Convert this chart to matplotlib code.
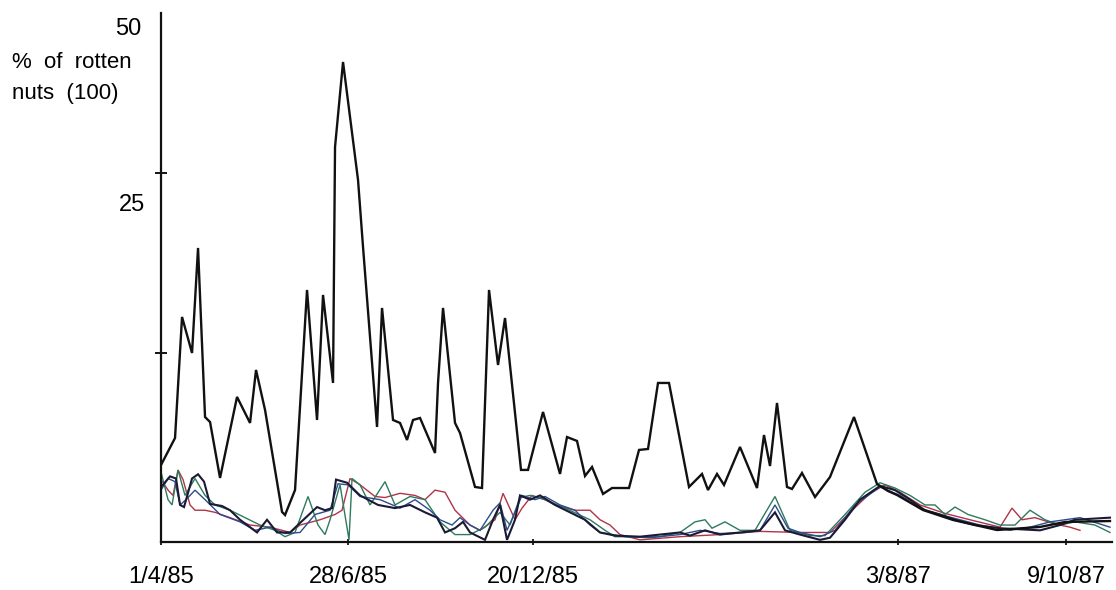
import matplotlib
matplotlib.use("Agg")
import matplotlib.pyplot as plt

plt.rcParams['font.family'] = ['Liberation Sans', 'DejaVu Sans']

# x = sample number along the record, y = % of rotten nuts
black_top = [(0, 7.28), (2.8, 9.83), (4.2, 21.27), (6.2, 17.86), (7.4, 27.79), (8.8, 11.81),
             (9.8, 11.34), (11.8, 6.05), (15.2, 13.71), (17.8, 11.25), (19.0, 16.26), (20.8, 12.48),
             (24.2, 2.84), (24.8, 2.55), (26.8, 4.91), (29.2, 23.82), (31.2, 11.53), (32.4, 23.35),
             (34.4, 15.03), (34.8, 37.33), (36.4, 45.37), (39.4, 34.22), (40.4, 27.88), (43.2, 10.87),
             (44.2, 22.12), (46.4, 11.53), (47.8, 11.25), (49.2, 9.64), (50.4, 11.53), (51.8, 11.72),
             (54.8, 8.41), (55.4, 15.03), (56.4, 22.12), (58.8, 11.25), (59.8, 10.30), (62.8, 5.20),
             (64.2, 5.10), (65.6, 23.82), (67.4, 16.73), (68.8, 21.17), (72.0, 6.81), (73.4, 6.81),
             (76.4, 12.29), (79.8, 6.43), (81.2, 9.92), (83.2, 9.55), (84.8, 6.24), (86.2, 7.09),
             (88.4, 4.54), (90.2, 5.10), (93.6, 5.10), (95.6, 8.70), (97.4, 8.79), (99.4, 15.03),
             (101.6, 15.03), (105.6, 5.20), (108.2, 6.43), (109.4, 4.91), (111.2, 6.43), (112.6, 5.39),
             (115.8, 8.98), (119.2, 5.10), (120.6, 10.11), (121.8, 7.18), (123.2, 13.14), (125.2, 5.20),
             (126.2, 5.01), (128.2, 6.52), (130.8, 4.25), (133.8, 6.14), (138.6, 11.81), (143.2, 5.48),
             (145.4, 4.82), (147.2, 4.44), (152.4, 3.02), (158.4, 2.08), (167.2, 1.13), (175.8, 1.42),
             (180.8, 1.89), (189.8, 1.98)]

navy = [(0, 5.2), (1.8, 6.2), (3.0, 6.0), (3.8, 3.5), (4.6, 3.3), (6.2, 6.0), (7.4, 6.4), (8.6, 5.7),
        (9.8, 3.6), (12.2, 3.4), (13.8, 3.0), (15.8, 2.1), (17.8, 1.4), (19.2, 0.9), (21.2, 2.1),
        (23.2, 0.9), (25.8, 0.9), (27.8, 1.8), (31.2, 3.3), (32.8, 3.0), (34.2, 3.2), (35.0, 5.9),
        (37.2, 5.6), (39.8, 4.4), (43.4, 3.5), (46.8, 3.2), (49.8, 3.5), (52.8, 2.8), (55.2, 2.3),
        (56.8, 0.9), (58.8, 1.3), (60.4, 1.9), (61.8, 0.9), (64.8, 0.2), (66.4, 2.1), (67.8, 3.5),
        (69.2, 0.2), (70.8, 2.1), (71.8, 4.4), (73.8, 4.0), (75.8, 4.4), (78.8, 3.5), (81.8, 2.8),
        (84.8, 2.1), (87.8, 0.9), (90.8, 0.6), (95.8, 0.5), (99.8, 0.7), (103.8, 0.9), (105.8, 0.6),
        (108.8, 1.1), (111.8, 0.7), (115.8, 0.9), (119.8, 1.1), (122.8, 2.8), (124.8, 1.1),
        (127.8, 0.7), (131.8, 0.2), (133.8, 0.4), (136.8, 2.1), (139.8, 4.0), (143.8, 5.3),
        (146.8, 4.9), (149.8, 4.0), (152.8, 3.0), (155.8, 2.6), (158.8, 2.1), (162.8, 1.6),
        (167.8, 1.3), (175.8, 1.1), (179.8, 1.6), (182.8, 2.1), (189.8, 2.3)]

blue = [(0, 4.9), (1.4, 6.0), (2.8, 5.7), (3.8, 3.5), (5.0, 4.0), (6.8, 4.9), (8.8, 4.0), (11.8, 2.6),
        (15.8, 1.9), (18.8, 1.1), (21.8, 1.4), (24.8, 0.8), (27.8, 0.9), (30.8, 2.6), (33.8, 3.0),
        (35.4, 5.5), (37.4, 5.4), (39.8, 4.3), (43.8, 4.0), (47.8, 3.2), (50.8, 4.0), (53.8, 3.0),
        (55.8, 2.1), (58.2, 1.6), (59.8, 2.3), (61.8, 1.6), (63.8, 1.1), (66.4, 3.0), (67.8, 3.7),
        (69.2, 1.1), (70.8, 2.8), (72.2, 4.4), (74.8, 4.0), (76.8, 4.3), (79.8, 3.5), (82.8, 3.0),
        (85.8, 1.6), (87.8, 0.9), (92.8, 0.5), (97.8, 0.4), (103.8, 0.7), (107.8, 1.1), (111.8, 0.8),
        (116.8, 0.9), (119.8, 1.1), (122.8, 3.5), (125.4, 1.3), (127.8, 0.9), (131.8, 0.5),
        (134.8, 1.1), (138.8, 3.5), (143.8, 5.2), (147.8, 4.4), (151.8, 3.2), (155.8, 2.6),
        (159.8, 2.1), (163.8, 1.6), (169.8, 1.1), (173.8, 1.4), (177.8, 1.9), (180.8, 2.1),
        (183.8, 2.3), (189.8, 1.4)]

green = [(0, 6.6), (1.4, 4.0), (2.2, 3.5), (3.4, 6.8), (4.8, 4.4), (6.8, 6.0), (8.8, 4.4), (10.8, 3.5),
         (13.8, 3.0), (16.8, 2.3), (19.8, 1.6), (22.8, 1.1), (24.8, 0.5), (26.8, 0.9), (29.4, 4.3),
         (31.4, 1.6), (32.8, 0.7), (33.8, 2.1), (35.8, 5.4), (37.6, 0.2), (38.2, 6.0), (39.8, 5.4),
         (41.8, 3.5), (44.8, 5.7), (46.8, 3.5), (49.8, 4.3), (52.8, 4.0), (55.8, 1.9), (58.8, 0.7),
         (61.8, 0.7), (64.8, 1.4), (67.8, 2.8), (69.8, 1.6), (71.8, 4.2), (73.8, 4.4), (76.8, 4.0),
         (80.8, 3.2), (85.8, 2.1), (88.8, 1.1), (90.8, 0.5), (95.8, 0.5), (99.8, 0.5), (103.8, 0.9),
         (106.8, 1.9), (108.8, 2.1), (110.2, 1.3), (112.8, 1.9), (115.8, 1.1), (118.8, 1.1),
         (122.8, 4.3), (125.8, 1.1), (129.8, 0.6), (132.8, 0.6), (136.8, 2.6), (140.8, 4.7),
         (143.8, 5.6), (146.8, 5.1), (149.8, 4.4), (152.8, 3.5), (154.8, 3.5), (156.8, 2.6),
         (158.8, 3.3), (161.4, 2.6), (164.8, 2.1), (167.8, 1.6), (170.8, 1.6), (173.8, 3.0),
         (176.8, 2.1), (179.8, 1.6), (182.8, 1.9), (186.8, 1.6), (189.8, 0.9)]

red = [(0, 5.9), (1.4, 4.9), (2.4, 4.4), (3.4, 6.8), (4.4, 5.9), (5.8, 3.5), (6.8, 3.0), (8.8, 3.0),
       (10.8, 2.8), (13.8, 2.3), (17.8, 1.6), (21.8, 1.4), (25.8, 0.9), (27.8, 1.6), (31.8, 2.1),
       (34.8, 2.6), (36.2, 3.0), (37.8, 6.0), (39.8, 5.4), (42.8, 4.3), (44.8, 4.2), (47.8, 4.6),
       (50.8, 4.4), (52.8, 4.0), (54.8, 4.9), (56.8, 4.7), (58.8, 3.0), (61.8, 1.6), (63.8, 1.1),
       (66.8, 2.1), (68.4, 4.6), (70.8, 2.1), (72.2, 3.2), (74.2, 4.4), (76.8, 4.0), (78.8, 3.5),
       (82.8, 3.0), (85.8, 3.0), (87.8, 2.1), (89.8, 1.6), (91.8, 0.7), (95.8, 0.2), (103.8, 0.5),
       (111.8, 0.7), (119.8, 1.0), (127.8, 0.9), (133.8, 0.9), (137.8, 2.8), (141.8, 4.6),
       (144.8, 5.4), (147.8, 4.7), (151.8, 3.5), (156.8, 2.7), (161.8, 2.1), (167.8, 1.4),
       (170.2, 3.2), (172.2, 2.1), (174.8, 2.3), (178.8, 1.7), (181.8, 1.4), (183.8, 1.1)]

date_ticks = [0, 37.4, 74.4, 147.4, 181.0]
date_labels = ['1/4/85', '28/6/85', '20/12/85', '3/8/87', '9/10/87']
y_cross_ticks = [17.9, 34.9]

fig = plt.figure(figsize=(11.16, 5.90), dpi=100)
ax = fig.add_axes([0.1443, 0.0814, 0.8521, 0.8966])

def draw(series, color, lw):
    xs = [p[0] for p in series]
    ys = [p[1] for p in series]
    ax.plot(xs, ys, color=color, lw=lw, solid_joinstyle='miter')

draw(red, '#b03448', 1.0)
draw(green, '#2e7a5c', 1.0)
draw(blue, '#2c4c8c', 1.0)
draw(navy, '#1a1a35', 1.5)
draw(black_top, '#111111', 1.7)

ax.set_xlim(0, 190.2)
ax.set_ylim(0, 50)
ax.spines['top'].set_visible(False)
ax.spines['right'].set_visible(False)
for s in ['left', 'bottom']:
    ax.spines[s].set_linewidth(1.6)
    ax.spines[s].set_color('#111111')

ax.set_xticks(date_ticks)
ax.set_xticklabels(date_labels, fontsize=17)
ax.tick_params(axis='x', direction='inout', length=5, width=1.2, pad=15)
ax.set_yticks(y_cross_ticks)
ax.set_yticklabels([])
ax.tick_params(axis='y', direction='inout', length=9, width=1.3)

# y-axis labels placed as in the original drawing
fig.text(141 / 1116, 1 - 29 / 590, '50', fontsize=17, ha='right', va='center')
fig.text(145 / 1116, 1 - 205 / 590, '25', fontsize=17, ha='right', va='center')
fig.text(12 / 1116, 1 - 63 / 590, '%  of  rotten', fontsize=16, ha='left', va='center')
fig.text(12 / 1116, 1 - 93 / 590, 'nuts  (100)', fontsize=16, ha='left', va='center')

fig.savefig('out.png', dpi=100, facecolor='white')
